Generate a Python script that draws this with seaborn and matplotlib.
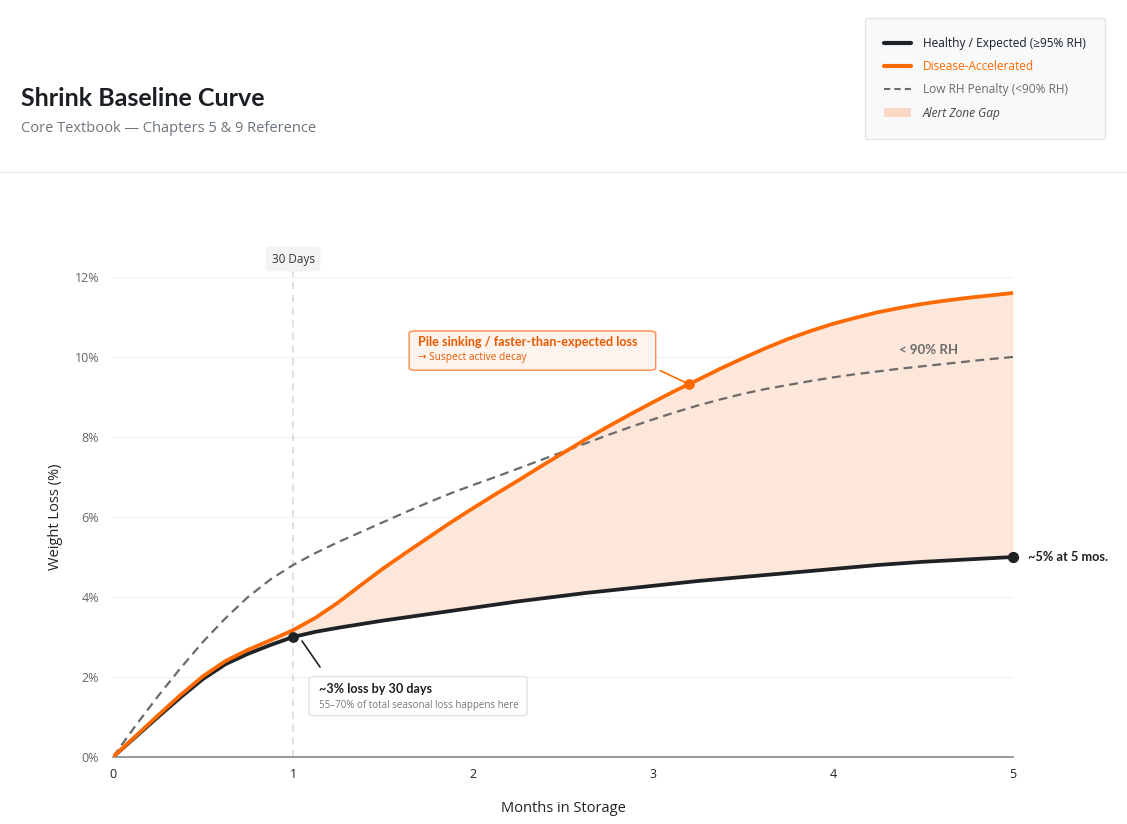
import numpy as np
import pandas as pd
import matplotlib
matplotlib.use("Agg")
import matplotlib.pyplot as plt
import matplotlib.ticker as mticker
from matplotlib.lines import Line2D
from matplotlib.patches import Patch, FancyBboxPatch
import seaborn as sns

sns.set_theme(style="white")
plt.rcParams["font.family"] = ["Open Sans", "DejaVu Sans"]
BOLD = ["Lato", "DejaVu Sans"]

# ── data ──────────────────────────────────────────────────────
months = [0, 0.125, 0.25, 0.375, 0.5, 0.625, 0.75, 0.875, 1.0,
          1.125, 1.25, 1.375, 1.5, 1.625, 1.75, 1.875, 2.0,
          2.125, 2.25, 2.375, 2.5, 2.625, 2.75, 2.875, 3.0,
          3.125, 3.25, 3.375, 3.5, 3.625, 3.75, 3.875, 4.0,
          4.125, 4.25, 4.375, 4.5, 4.625, 4.75, 4.875, 5.0]
healthy = [0, 0.5, 1.0, 1.49, 1.95, 2.32, 2.58, 2.8, 3.0,
           3.13, 3.23, 3.32, 3.41, 3.49, 3.57, 3.65, 3.73,
           3.81, 3.89, 3.96, 4.03, 4.1, 4.16, 4.22, 4.28,
           4.34, 4.4, 4.45, 4.5, 4.55, 4.6, 4.65, 4.7,
           4.75, 4.8, 4.84, 4.88, 4.91, 4.94, 4.97, 5.0]
disease = [0, 0.52, 1.04, 1.55, 2.02, 2.4, 2.68, 2.92, 3.17,
           3.48, 3.86, 4.29, 4.71, 5.1, 5.48, 5.86, 6.22,
           6.57, 6.91, 7.26, 7.6, 7.94, 8.26, 8.57, 8.87,
           9.16, 9.43, 9.71, 9.97, 10.22, 10.45, 10.65, 10.83,
           10.98, 11.12, 11.23, 11.33, 11.41, 11.48, 11.54, 11.6]
low_rh = [0, 0.78, 1.52, 2.22, 2.88, 3.47, 4.0, 4.44, 4.8,
          5.1, 5.37, 5.62, 5.87, 6.12, 6.36, 6.59, 6.8,
          7.0, 7.21, 7.42, 7.63, 7.84, 8.05, 8.25, 8.44,
          8.62, 8.79, 8.94, 9.08, 9.2, 9.3, 9.4, 9.49,
          9.57, 9.64, 9.71, 9.77, 9.83, 9.89, 9.95, 10.0]
x_ticks = [0, 1, 2, 3, 4, 5]
y_ticks = [0, 2, 4, 6, 8, 10, 12]

BLACK = "#1e2225"
ORANGE = "#ff6a00"
GREY = "#6b6b6b"
FILL = "#fde6da"

df = pd.DataFrame({"month": months, "healthy": healthy,
                   "disease": disease, "low_rh": low_rh})

fig = plt.figure(figsize=(11.27, 8.24), dpi=100)
W, H = 1127, 824

# header
fig.text(21 / W, 1 - 98 / H, "Shrink Baseline Curve", fontsize=18, family=BOLD,
         fontweight="bold", color="#1b1f23", va="center")
fig.text(21 / W, 1 - 128 / H, "Core Textbook \u2014 Chapters 5 & 9 Reference",
         fontsize=10.5, color="#6c757d", va="center")
fig.add_artist(Line2D([0, 1], [1 - 172 / H, 1 - 172 / H], color="#eeeeee", lw=1))

ax = fig.add_axes([113 / W, (H - 757) / H, 900 / W, 480 / H])

ax.fill_between(df["month"], df["healthy"], df["disease"], color=FILL, lw=0, zorder=1)
sns.lineplot(data=df, x="month", y="low_rh", ax=ax, color=GREY, lw=1.6,
             linestyle=(0, (4, 2.5)), zorder=3)
sns.lineplot(data=df, x="month", y="healthy", ax=ax, color=BLACK, lw=2.7, zorder=4)
sns.lineplot(data=df, x="month", y="disease", ax=ax, color=ORANGE, lw=2.7, zorder=5)

ax.set_xlim(0, 5)
ax.set_ylim(0, 12)
ax.set_xticks(x_ticks)
ax.set_yticks(y_ticks)
ax.yaxis.set_major_formatter(mticker.FuncFormatter(lambda v, _: f"{int(v)}%"))
ax.grid(axis="y", color="#f2f2f2", lw=1)
ax.set_axisbelow(True)
for s in ["top", "right", "left"]:
    ax.spines[s].set_visible(False)
ax.spines["bottom"].set_color("#888888")
ax.spines["bottom"].set_linewidth(1.2)
ax.tick_params(axis="x", length=5, color="#888888", labelsize=9, labelcolor="#222222", pad=3)
ax.tick_params(axis="y", length=0, labelsize=9, labelcolor="#666666", pad=10)
ax.set_xlabel("Months in Storage", fontsize=10.5, color="#222222", labelpad=14)
ax.set_ylabel("Weight Loss (%)", fontsize=10.5, color="#222222", labelpad=8)

# 30 day marker
ax.plot([1, 1], [0, 12.35], color="#dddddd", lw=1.3, ls=(0, (4, 3)),
        clip_on=False, zorder=2)
ax.text(1, 12.45, "30 Days", ha="center", va="center", fontsize=8.5, color="#333333",
        bbox=dict(boxstyle="round,pad=0.5,rounding_size=0.3", fc="#f1f3f5", ec="none"))

# points
ax.scatter([1], [3.0], s=45, color=BLACK, zorder=6)
ax.scatter([3.2], [9.32], s=45, color=ORANGE, zorder=6)
ax.scatter([5], [5.0], s=50, color=BLACK, zorder=6, clip_on=False)

# annotation: disease
ax.plot([3.04, 3.2], [9.66, 9.32], color=ORANGE, lw=1.2, zorder=5)
box1 = FancyBboxPatch((1.645, 9.67), 1.37, 0.98, boxstyle="round,pad=0,rounding_size=0.04",
                      fc="#fff3ee", ec="#ff8c4a", lw=1, zorder=7, mutation_aspect=12 / 5 * 480 / 900)
ax.add_patch(box1)
ax.text(1.695, 10.38, "Pile sinking / faster-than-expected loss", fontsize=9.1, family=BOLD,
        fontweight="bold", color="#e85a00", va="center", zorder=8)
ax.text(1.695, 9.98, "\u2192 Suspect active decay", fontsize=7.3,
        color="#e85a00", va="center", zorder=8)

# annotation: 30 days
ax.plot([1.05, 1.15], [2.9, 2.25], color=BLACK, lw=1.2, zorder=5)
box2 = FancyBboxPatch((1.09, 1.03), 1.21, 0.98, boxstyle="round,pad=0,rounding_size=0.04",
                      fc="white", ec="#e3e3e3", lw=1, zorder=7, mutation_aspect=12 / 5 * 480 / 900)
ax.add_patch(box2)
ax.text(1.145, 1.7, "~3% loss by 30 days", fontsize=9.1, family=BOLD, fontweight="bold",
        color="#1b1f23", va="center", zorder=8)
ax.text(1.145, 1.29, "55\u201370% of total seasonal loss happens here", fontsize=7,
        color="#777777", va="center", zorder=8)

ax.text(4.53, 10.17, "< 90% RH", fontsize=9.5, family=BOLD, fontweight="bold", color=GREY,
        ha="center", va="center")
ax.text(5.085, 5.0, "~5% at 5 mos.", fontsize=9.2, family=BOLD, fontweight="bold",
        color="#1b1f23", va="center", clip_on=False)

# legend
handles = [Line2D([], [], color=BLACK, lw=3),
           Line2D([], [], color=ORANGE, lw=3),
           Line2D([], [], color=GREY, lw=1.5, ls=(0, (3, 2))),
           Patch(fc="#fbd8c6", ec="none")]
labels = ["Healthy / Expected (\u226595% RH)", "Disease-Accelerated",
          "Low RH Penalty (<90% RH)", "Alert Zone Gap"]
leg = fig.legend(handles, labels, loc="upper right",
                 bbox_to_anchor=(1111 / W, 1 - 12 / H), fontsize=8.6,
                 frameon=True, fancybox=True, borderpad=1.6, labelspacing=0.85,
                 handlelength=2.3, handletextpad=1.0)
frame = leg.get_frame()
frame.set_facecolor("#f8f9fa")
frame.set_edgecolor("#e2e5e8")
frame.set_linewidth(1)
frame.set_alpha(1)
txt = leg.get_texts()
txt[0].set_color("#1b1f23")
txt[1].set_color(ORANGE)
txt[2].set_color(GREY)
txt[3].set_color("#444444")
txt[3].set_fontstyle("italic")

fig.savefig("out.png", dpi=100)
